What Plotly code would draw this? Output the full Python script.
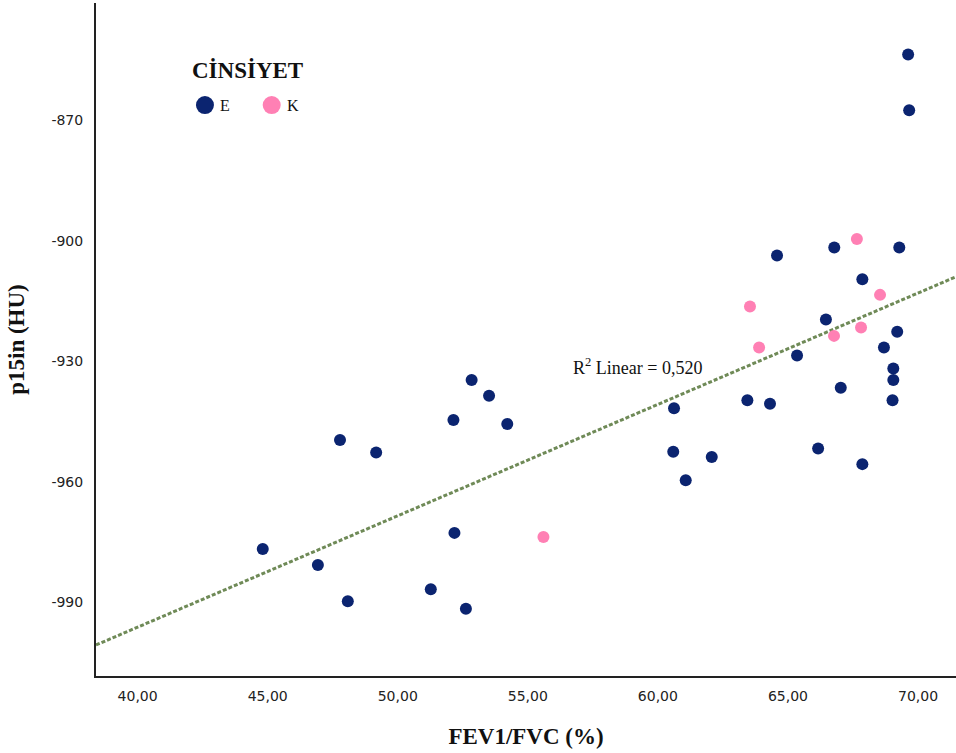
import numpy as np
import plotly.graph_objects as go

# Data
male_x = [69.62, 69.66, 66.78, 69.28, 64.58, 67.86, 66.46, 69.20, 68.69, 65.35,
          69.05, 69.05, 69.02, 67.03, 63.44, 64.31, 60.62, 52.84, 53.51, 52.14,
          54.21, 47.78, 49.17, 60.59, 62.07, 66.16, 67.86, 61.07, 52.18, 44.81,
          46.93, 48.08, 51.27, 52.62]
male_y = [-853.7, -867.6, -901.7, -901.7, -903.7, -909.6, -919.6, -922.7, -926.6, -928.6,
          -931.8, -934.7, -939.7, -936.6, -939.7, -940.6, -941.7, -934.7, -938.6, -944.6,
          -945.6, -949.6, -952.7, -952.5, -953.8, -951.7, -955.6, -959.6, -972.7, -976.7,
          -980.7, -989.7, -986.7, -991.6]
female_x = [67.65, 68.54, 63.54, 67.81, 66.77, 63.89, 55.60]
female_y = [-899.6, -913.5, -916.4, -921.6, -923.7, -926.6, -973.7]

x_ticks = [40, 45, 50, 55, 60, 65, 70]
x_ticklabels = ["40,00", "45,00", "50,00", "55,00", "60,00", "65,00", "70,00"]
y_ticks = [-870, -900, -930, -960, -990]
y_ticklabels = ["-870", "-900", "-930", "-960", "-990"]
r2_label = "R<sup>2</sup> Linear = 0,520"
legend_title = "CİNSİYET"
group_names = ["E", "K"]

x_range = [38.4, 71.46]
y_range = [-1008.3, -840.9]

# Linear fit over all points
all_x = np.array(male_x + female_x)
all_y = np.array(male_y + female_y)
slope, intercept = np.polyfit(all_x, all_y, 1)
fit_x = np.array(x_range)
fit_y = slope * fit_x + intercept

navy = "#0b2470"
pink = "#ff80b4"
serif = "Liberation Serif"
sans = "DejaVu Sans"

fig = go.Figure()
fig.add_trace(go.Scatter(x=fit_x, y=fit_y, mode="lines", showlegend=False,
                         line=dict(color="#6f8a57", width=3, dash="4px,2px"),
                         hoverinfo="skip"))
fig.add_trace(go.Scatter(x=male_x, y=male_y, mode="markers", name=group_names[0],
                         showlegend=False,
                         marker=dict(color=navy, size=12, line=dict(width=0))))
fig.add_trace(go.Scatter(x=female_x, y=female_y, mode="markers", name=group_names[1],
                         showlegend=False,
                         marker=dict(color=pink, size=12, line=dict(width=0))))

fig.add_annotation(x=59.23, y=-931.2, text=r2_label, showarrow=False,
                   font=dict(family=serif, size=18, color="#111"))

# custom legend (title, swatches, labels)
fig.add_annotation(xref="paper", yref="paper", x=0.1093, y=0.899,
                   xanchor="left", yanchor="middle", showarrow=False,
                   text="<b>" + legend_title + "</b>",
                   font=dict(family=serif, size=23, color="#111"))
legend_items = [(0.1267, 0.1419, navy), (0.2043, 0.2198, pink)]
for name, (mx, tx, col) in zip(group_names, legend_items):
    fig.add_shape(type="circle", xref="paper", yref="paper",
                  xsizemode="pixel", ysizemode="pixel",
                  xanchor=mx, yanchor=0.8484,
                  x0=-9, x1=9, y0=-9, y1=9,
                  fillcolor=col, line=dict(width=0))
    fig.add_annotation(xref="paper", yref="paper", x=tx, y=0.8484,
                       xanchor="left", yanchor="middle", showarrow=False,
                       text=name, font=dict(family=serif, size=16, color="#111"))

fig.update_layout(
    width=956, height=753,
    margin=dict(l=96, r=0, t=3, b=77),
    paper_bgcolor="white", plot_bgcolor="white",
    showlegend=False,
)
fig.update_xaxes(range=x_range, tickvals=x_ticks, ticktext=x_ticklabels,
                 showgrid=False, zeroline=False, showline=True,
                 linecolor="#222", linewidth=2, ticks="",
                 tickfont=dict(family=sans, size=14, color="#222"),
                 ticklabelstandoff=6,
                 title=dict(text="<b>FEV1/FVC (%)</b>", standoff=25,
                            font=dict(family=serif, size=23, color="#111")))
fig.update_yaxes(range=y_range, tickvals=y_ticks, ticktext=y_ticklabels,
                 showgrid=False, zeroline=False, showline=True,
                 linecolor="#222", linewidth=2, ticks="",
                 tickfont=dict(family=sans, size=14, color="#222"),
                 ticklabelstandoff=8,
                 title=dict(text="<b>p15in (HU)</b>", standoff=20,
                            font=dict(family=serif, size=23, color="#111")))

fig.write_html("out.html")
